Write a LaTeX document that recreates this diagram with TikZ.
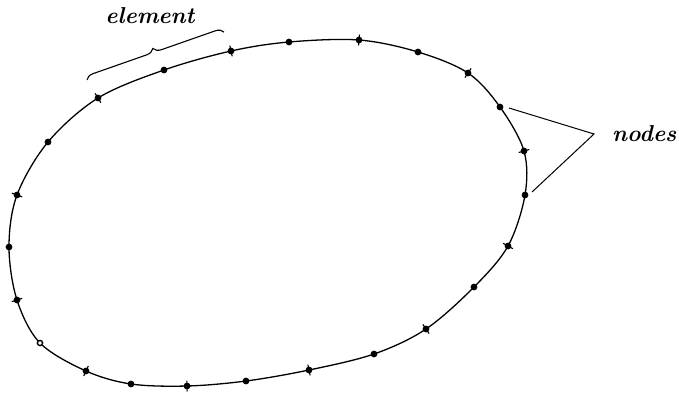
\documentclass[tikz,border=0pt]{standalone}
\usetikzlibrary{calc,decorations.pathreplacing}
\begin{document}
\begin{tikzpicture}[x=1pt,y=-1pt,
  curve/.style={line width=1.3pt},
  dot/.style={fill=black},
  tickmark/.style={line width=1.1pt},
  lbl/.style={font=\fontsize{23}{27}\selectfont\bfseries\itshape, inner sep=0pt},
  leader/.style={line width=1pt}]
\useasboundingbox (0,0) rectangle (679,394);
\coordinate (p1) at (98,98);
\coordinate (p2) at (164,70);
\coordinate (p3) at (231,51);
\coordinate (p4) at (289,42);
\coordinate (p5) at (359,40);
\coordinate (p6) at (418,52);
\coordinate (p7) at (468,73);
\coordinate (p8) at (500,107);
\coordinate (p9) at (524,151);
\coordinate (p10) at (525,195);
\coordinate (p11) at (508,246);
\coordinate (p12) at (474,287);
\coordinate (p13) at (426,329);
\coordinate (p14) at (374,354);
\coordinate (p15) at (309,370);
\coordinate (p16) at (246,381);
\coordinate (p17) at (187,386);
\coordinate (p18) at (131,384);
\coordinate (p19) at (86,371);
\coordinate (p20) at (40,343);
\coordinate (p21) at (17,300);
\coordinate (p22) at (9,247);
\coordinate (p23) at (17,195);
\coordinate (p24) at (48,142);
\draw[curve] plot[smooth cycle, tension=0.55] coordinates {(p1) (p2) (p3) (p4) (p5) (p6) (p7) (p8) (p9) (p10) (p11) (p12) (p13) (p14) (p15) (p16) (p17) (p18) (p19) (p20) (p21) (p22) (p23) (p24)};
\foreach \c/\a/\b in {1/24/2,3/2/4,5/4/6,7/6/8,9/8/10,11/10/12,13/12/14,15/14/16,17/16/18,19/18/20,21/20/22,23/22/24}
  \draw[tickmark] let \p1=(p\a), \p2=(p\b), \n1={atan2(\y2-\y1,\x2-\x1)} in
    ([shift={(\n1+90:5.5pt)}]p\c) -- ([shift={(\n1-90:5.5pt)}]p\c);
\foreach \i in {1,...,19,21,22,23,24}
  \fill[dot] (p\i) circle (3.4pt);
\draw[line width=1.4pt, fill=white] (p20) circle (2.6pt);
% brace
\coordinate (b1) at (87,80);
\coordinate (b2) at (224,32);
\draw[line width=1.1pt, decorate, decoration={brace, amplitude=8pt}] (b1) -- (b2);
\node[lbl] (elem) at (150,16) {element};
% nodes label
\coordinate (n1) at (509,108);
\coordinate (n2) at (532,192);
\coordinate (apex) at (594,134);
\draw[leader] (n1) -- (apex) -- (n2);
\node[lbl, anchor=west] (nodes) at (612,134) {nodes};
\end{tikzpicture}
\end{document}
